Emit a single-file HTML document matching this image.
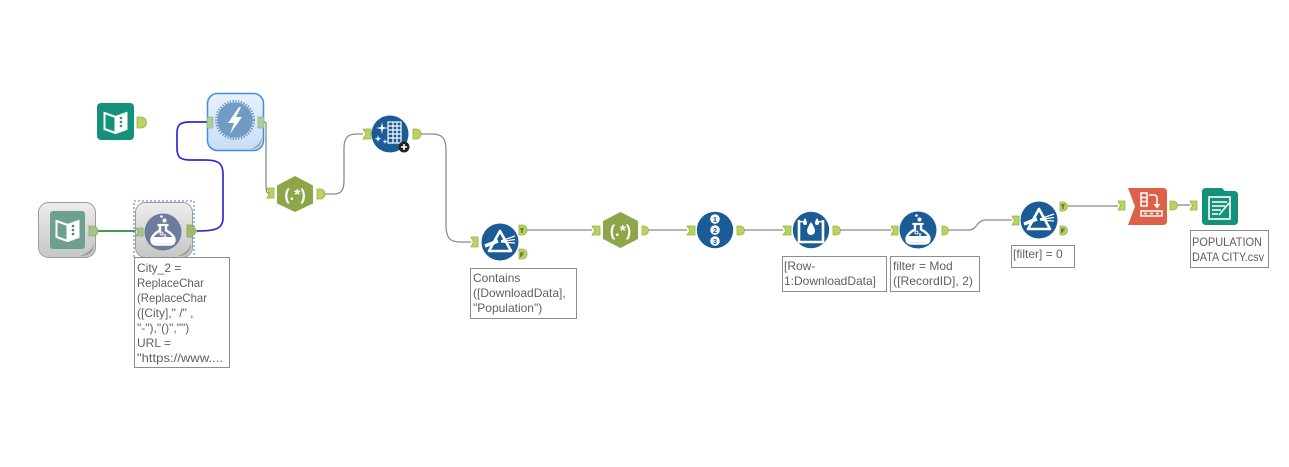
<!DOCTYPE html>
<html><head><meta charset="utf-8"><style>
html,body{margin:0;padding:0;background:#fff;}
svg{display:block;}
text{font-family:"Liberation Sans",sans-serif;}
</style></head><body>
<svg width="1289" height="467" viewBox="0 0 1289 467" xmlns="http://www.w3.org/2000/svg">
<defs>
<linearGradient id="gg" x1="0" y1="0" x2="0" y2="1"><stop offset="0" stop-color="#ededed"/><stop offset="1" stop-color="#c6c6c6"/></linearGradient>
<linearGradient id="bg" x1="0" y1="0" x2="0" y2="1"><stop offset="0" stop-color="#e8f1fc"/><stop offset="1" stop-color="#c8ddf5"/></linearGradient>
<g id="flask">
<path d="M-3,-6 V-1.5 C-8,1 -12,5 -11.5,8.5 Q-11,12.5 -6.5,12.5 H6.5 Q11,12.5 11.5,8.5 C12,5 8,1 3,-1.5 V-6" fill="none" stroke="#fff" stroke-width="2.4" stroke-linejoin="round"/>
<path d="M-5.5,-7 H5.5" stroke="#fff" stroke-width="2.2"/>
<path d="M-9.5,5 H9.5 Q10.8,7 10.5,9 Q10,11.3 6.5,11.3 H-6.5 Q-10,11.3 -10.5,9 Q-10.8,7 -9.5,5 Z" fill="#fff"/>
<circle cx="1.5" cy="-11.5" r="2" fill="#fff"/>
<circle cx="-1.5" cy="-15.5" r="1.3" fill="#fff"/>
<circle cx="-1.5" cy="1.5" r="1.5" fill="none" stroke="#fff" stroke-width="1"/>
<circle cx="2" cy="3.5" r="1" fill="none" stroke="#fff" stroke-width="0.8"/>
</g>
<g id="prism">
<path d="M0,-12 L-11,8 H11 Z" fill="none" stroke="#fff" stroke-width="2.6" stroke-linejoin="round"/>
<path d="M-15,3 L-2,-2" stroke="#fff" stroke-width="3.5"/>
<path d="M1,-2 L15,-7 M1,-1 L15,0 M1,-1.5 L15,-3.5" stroke="#fff" stroke-width="1.2"/>
</g>
<g id="book">
<path d="M-11,-9 L0,-5 L11,-9 V7 L0,11 L-11,7 Z" fill="none" stroke="#fff" stroke-width="2"/>
<path d="M0,-5 V11" stroke="#fff" stroke-width="2"/>
<path d="M0,-5 L11,-9 V7 L0,11 Z" fill="#fff"/>
<circle cx="5.5" cy="-4" r="1.3" fill="#3a8a78"/>
<circle cx="5.5" cy="0" r="1.3" fill="#3a8a78"/>
<circle cx="5.5" cy="4" r="1.3" fill="#3a8a78"/>
</g>
</defs>

<!-- connectors -->
<path d="M96,231 H136" stroke="#3f9c52" stroke-width="2" fill="none"/>
<path d="M197,231 C215,231 223,229 223,218 V174 C223,163 218,160 205,160 H190 C180,160 177,157 177,148 V133 C177,125 180,122 190,122 H207" stroke="#2b2bd0" stroke-width="1.7" fill="none"/>
<g stroke="#8a8a8a" stroke-width="1.3" fill="none">
<path d="M264,122 C267,122 266,125 266,130 V186 C266,192 267,193 269,193"/>
<path d="M325,194 H334 C342,194 344,189 344,180 V148 C344,138 348,134 356,134 H363"/>
<path d="M421,134 H432 C442,134 446,138 446,150 V225 C446,238 450,242 460,242 H471"/>
<path d="M527,230 H592"/>
<path d="M648,230 H687"/>
<path d="M744,230 H783"/>
<path d="M840,230 H891"/>
<path d="M948,230 H968 C978,230 976,220 986,220 H1012"/>
<path d="M1068,206 H1118"/>
<path d="M1177,205 H1190"/>
</g>

<!-- top teal book -->
<rect x="97" y="103" width="37" height="37" rx="4" fill="#15907a"/>
<use href="#book" transform="translate(115.5,122)"/>
<path d="M137,117 H141 A5.5,5.5 0 0 1 141,128 H137 Z" fill="#b7d461" stroke="#93b341" stroke-width="0.8"/>

<!-- gray input book -->
<rect x="38.5" y="202.5" width="57" height="55" rx="10" fill="url(#gg)" stroke="#9c9c9c"/>
<path d="M80,256 Q94,256 94,243 Q92,252 80,256Z" fill="#9a9a9a"/>
<rect x="50" y="211" width="35" height="38" rx="3" fill="#6fa08f"/>
<use href="#book" transform="translate(67.5,230)"/>
<path d="M89,226 H93 A5,5 0 0 1 93,236 H89 Z" fill="#a9c48a" stroke="#8aa86a" stroke-width="0.8"/>

<!-- gray formula (selected) -->
<rect x="135.5" y="202.5" width="57" height="55" rx="10" fill="url(#gg)" stroke="#9c9c9c"/>
<path d="M178,256 Q191,256 191,243 Q189,252 178,256Z" fill="#9a9a9a"/>
<rect x="134" y="201" width="60" height="58" fill="none" stroke="#3a7fd5" stroke-width="1" stroke-dasharray="2,2"/>
<circle cx="163" cy="232" r="18.5" fill="#6b7c9c"/>
<use href="#flask" transform="translate(163,232)"/>
<polygon points="136,228 143,228 143,236 136,236 138.5,232" fill="#a9c48a" stroke="#8aa86a" stroke-width="0.8"/>
<path d="M187,225 H192 L197,231 L192,237 H187 Z" fill="#9dbd6a" stroke="#85a555" stroke-width="0.8"/>

<!-- lightning (download) selected -->
<rect x="207.5" y="93.5" width="56" height="57" rx="10" fill="url(#bg)" stroke="#3d8ee8" stroke-width="1.5"/>
<path d="M250,149 Q262,149 262,137 Q260,146 250,149Z" fill="#9aa6b3"/>
<circle cx="235" cy="120" r="19" fill="none" stroke="#6f9bc4" stroke-width="2" stroke-dasharray="1.4,1.4"/>
<circle cx="235" cy="120" r="17.8" fill="#6f9bc4"/>
<polygon points="239,107 228,123 234,123 230,134 242,117 236,117 241,107" fill="#fff"/>
<rect x="207" y="117" width="6" height="11" fill="#a9cf9a" stroke="#85b07a" stroke-width="0.6"/>
<rect x="258" y="117" width="6" height="11" fill="#a9cf9a" stroke="#85b07a" stroke-width="0.6"/>

<!-- regex 1 -->
<polygon points="295,176 313,185.5 313,203.5 295,212 277,203.5 277,185.5" fill="#8ea64a"/>
<text x="295" y="200" font-size="16" font-weight="bold" fill="#fff" text-anchor="middle">(.*)</text>
<polygon points="267,188 274,188 274,198 267,198 269.5,193" fill="#b7d461" stroke="#93b341" stroke-width="0.8"/>
<path d="M317,189 H320 A5,5 0 0 1 320,199 H317 Z" fill="#b7d461" stroke="#93b341" stroke-width="0.8"/>

<!-- text to columns -->
<circle cx="390" cy="134" r="18.5" fill="#1b5c97"/>
<g stroke="#fff" fill="none" stroke-width="1.2">
<rect x="388" y="122" width="13" height="21"/>
<path d="M388,126 H401 M388,130 H401 M388,134 H401 M388,138 H401 M393,122 V143 M397,122 V143"/>
</g>
<path d="M382,122 L383,127 L388,128 L383,129 L382,134 L381,129 L376,128 L381,127 Z" fill="#fff"/>
<path d="M378,135 L378.8,138 L381.5,138.8 L378.8,139.6 L378,142 L377.2,139.6 L374.5,138.8 L377.2,138 Z" fill="#fff"/>
<path d="M385,139 L385.6,141 L387.5,141.6 L385.6,142.2 L385,144 L384.4,142.2 L382.5,141.6 L384.4,141 Z" fill="#fff"/>
<circle cx="404" cy="147" r="5.5" fill="#222"/>
<path d="M404,144 V150 M401,147 H407" stroke="#fff" stroke-width="1.6"/>
<polygon points="363,129 371,129 371,139 363,139 366,134" fill="#b7d461" stroke="#93b341" stroke-width="0.8"/>
<path d="M413,129 H416 A5,5 0 0 1 416,139 H413 Z" fill="#b7d461" stroke="#93b341" stroke-width="0.8"/>

<!-- filter 1 -->
<circle cx="500" cy="242" r="18.5" fill="#1b5c97"/>
<use href="#prism" transform="translate(500,243)"/>
<polygon points="471,237 478,237 478,247 471,247 473.5,242" fill="#b7d461" stroke="#93b341" stroke-width="0.8"/>
<path d="M519,225 H522 A5,5 0 0 1 522,235 H519 Z" fill="#b7d461" stroke="#93b341" stroke-width="0.8"/>
<text x="522" y="233" font-size="6.5" font-weight="bold" fill="#333" text-anchor="middle">T</text>
<path d="M519,249 H522 A5,5 0 0 1 522,259 H519 Z" fill="#b7d461" stroke="#93b341" stroke-width="0.8"/>
<text x="522" y="257" font-size="6.5" font-weight="bold" fill="#333" text-anchor="middle">F</text>

<!-- regex 2 -->
<polygon points="620.5,212 638,221 638,239 620.5,248 603,239 603,221" fill="#8ea64a"/>
<text x="620.5" y="236" font-size="16" font-weight="bold" fill="#fff" text-anchor="middle">(.*)</text>
<polygon points="592,226 600,226 600,235 592,235 595,230.5" fill="#b7d461" stroke="#93b341" stroke-width="0.8"/>
<path d="M642,226 H644 A4.5,4.5 0 0 1 644,235 H642 Z" fill="#b7d461" stroke="#93b341" stroke-width="0.8"/>

<!-- record id -->
<circle cx="715" cy="230" r="18.2" fill="#1b5c97"/>
<circle cx="715" cy="219" r="4.8" fill="#fff"/>
<circle cx="715" cy="230" r="4.8" fill="#fff"/>
<circle cx="715" cy="241" r="4.8" fill="#fff"/>
<text x="715" y="221.8" font-size="7.5" font-weight="bold" fill="#1b5c97" text-anchor="middle">1</text>
<text x="715" y="232.8" font-size="7.5" font-weight="bold" fill="#1b5c97" text-anchor="middle">2</text>
<text x="715" y="243.8" font-size="7.5" font-weight="bold" fill="#1b5c97" text-anchor="middle">3</text>
<polygon points="687,226 695,226 695,235 687,235 690,230.5" fill="#b7d461" stroke="#93b341" stroke-width="0.8"/>
<path d="M737,226 H740 A4.5,4.5 0 0 1 740,235 H737 Z" fill="#b7d461" stroke="#93b341" stroke-width="0.8"/>

<!-- multi-row -->
<circle cx="811" cy="230" r="18.2" fill="#1b5c97"/>
<path d="M799,220 V242 H823 V220" fill="none" stroke="#fff" stroke-width="2.6"/>
<path d="M799,223 Q802,220 805,223 M817,223 Q820,220 823,223" fill="none" stroke="#fff" stroke-width="1.5"/>
<path d="M811,222 Q815,228 815,231 A4,4 0 0 1 807,231 Q807,228 811,222 Z" fill="#fff"/>
<path d="M805,218 Q807,221 807,223 A2,2 0 0 1 803,223 Q803,221 805,218 Z" fill="#fff"/>
<path d="M817,218 Q819,221 819,223 A2,2 0 0 1 815,223 Q815,221 817,218 Z" fill="#fff"/>
<polygon points="783,226 791,226 791,235 783,235 786,230.5" fill="#b7d461" stroke="#93b341" stroke-width="0.8"/>
<path d="M833,226 H836 A4.5,4.5 0 0 1 836,235 H833 Z" fill="#b7d461" stroke="#93b341" stroke-width="0.8"/>

<!-- formula 2 -->
<circle cx="918" cy="230" r="18.5" fill="#1b5c97"/>
<use href="#flask" transform="translate(918,231)"/>
<polygon points="891,226 898,226 898,235 891,235 893.5,230.5" fill="#b7d461" stroke="#93b341" stroke-width="0.8"/>
<path d="M942,226 H944 A4.5,4.5 0 0 1 944,235 H942 Z" fill="#b7d461" stroke="#93b341" stroke-width="0.8"/>

<!-- filter 2 -->
<circle cx="1039" cy="220" r="18.5" fill="#1b5c97"/>
<use href="#prism" transform="translate(1039,221)"/>
<polygon points="1012,216 1019,216 1019,225 1012,225 1014.5,220.5" fill="#b7d461" stroke="#93b341" stroke-width="0.8"/>
<path d="M1060,202 H1063 A4.5,4.5 0 0 1 1063,211 H1060 Z" fill="#b7d461" stroke="#93b341" stroke-width="0.8"/>
<text x="1063" y="209" font-size="6.5" font-weight="bold" fill="#333" text-anchor="middle">T</text>
<path d="M1060,226 H1063 A4.5,4.5 0 0 1 1063,235 H1060 Z" fill="#b7d461" stroke="#93b341" stroke-width="0.8"/>
<text x="1063" y="233" font-size="6.5" font-weight="bold" fill="#333" text-anchor="middle">F</text>

<!-- transpose -->
<path d="M1128,188 H1163 Q1167,188 1167,192 V221 Q1167,225 1163,225 H1128 L1135,206.5 Z" fill="#dd6149"/>
<g fill="none" stroke="#fff" stroke-width="1.5">
<rect x="1141" y="193" width="6" height="13"/>
<path d="M1141,197.5 H1147 M1141,201.5 H1147"/>
<path d="M1149,195 H1154 Q1157,195 1157,198 V205"/>
<rect x="1141" y="211" width="21" height="5"/>
</g>
<path d="M1153.5,204 H1160.5 L1157,208.5 Z" fill="#fff"/>
<path d="M1144,213.5 H1147 M1150,213.5 H1153 M1156,213.5 H1159" stroke="#fff" stroke-width="1.5"/>
<polygon points="1118,201 1125,201 1125,210 1118,210 1120.5,205.5" fill="#b7d461" stroke="#93b341" stroke-width="0.8"/>
<path d="M1170,201 H1173 A4.5,4.5 0 0 1 1173,210 H1170 Z" fill="#b7d461" stroke="#93b341" stroke-width="0.8"/>

<!-- output -->
<path d="M1202,192 Q1202,188 1206,188 H1222 L1225,191 H1234 Q1238,191 1238,195 V221 Q1238,225 1234,225 H1206 Q1202,225 1202,221 Z" fill="#15907a"/>
<g fill="none" stroke="#fff" stroke-width="1.6">
<rect x="1209" y="197" width="21" height="22"/>
<path d="M1212,202 H1227 M1212,206 H1225 M1212,210 H1221 M1212,214 H1218"/>
<path d="M1219,215 L1229,203"/>
</g>
<polygon points="1190,201 1197,201 1197,210 1190,210 1192.5,205.5" fill="#b7d461" stroke="#93b341" stroke-width="0.8"/>

<!-- labels -->
<g fill="#fff" stroke="#8c8c8c" stroke-width="1">
<rect x="134.5" y="257.5" width="95" height="110"/>
<rect x="470.5" y="268.5" width="106" height="50"/>
<rect x="782.5" y="256.5" width="104" height="35"/>
<rect x="890.5" y="256.5" width="89" height="35"/>
<rect x="1011.5" y="245.5" width="63" height="22"/>
<rect x="1190.5" y="230.5" width="78" height="37"/>
</g>
<g font-size="12" fill="#5f5f5f">
<text x="137" y="272">City_2 =</text>
<text x="137" y="287" textLength="67" lengthAdjust="spacingAndGlyphs">ReplaceChar</text>
<text x="137" y="302" textLength="70" lengthAdjust="spacingAndGlyphs">(ReplaceChar</text>
<text x="137" y="317">([City]," /" ,</text>
<text x="137" y="332">"-"),"()","")</text>
<text x="137" y="347">URL =</text>
<text x="137" y="362" textLength="86" lengthAdjust="spacingAndGlyphs">"https://www....</text>
<text x="473" y="282">Contains</text>
<text x="473" y="297">([DownloadData],</text>
<text x="473" y="312">"Population")</text>
<text x="784" y="270">[Row-</text>
<text x="784" y="285" textLength="92" lengthAdjust="spacingAndGlyphs">1:DownloadData]</text>
<text x="893" y="270">filter = Mod</text>
<text x="893" y="285" textLength="80" lengthAdjust="spacingAndGlyphs">([RecordID], 2)</text>
<text x="1013" y="258">[filter] = 0</text>
<text x="1192" y="246" textLength="70" lengthAdjust="spacingAndGlyphs">POPULATION</text>
<text x="1192" y="261" textLength="72" lengthAdjust="spacingAndGlyphs">DATA CITY.csv</text>
</g>
</svg>
</body></html>
